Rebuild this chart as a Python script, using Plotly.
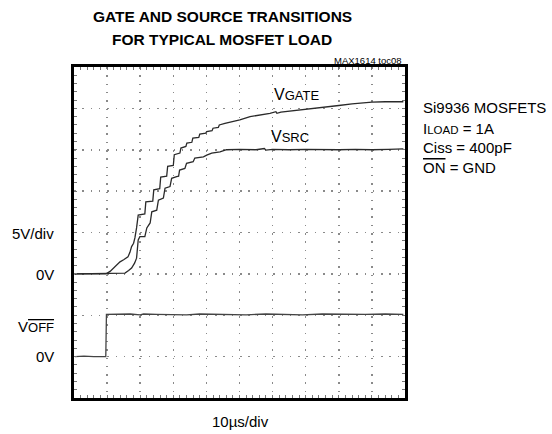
import plotly.graph_objects as go

# ---- data (time in microseconds, voltage in volts) ----
gate_t = [0.3, 9.7, 10.9, 12.5, 13.9, 15.0, 16.3, 16.9, 17.4, 18.0, 18.4, 18.9, 19.4,
          21.4, 21.7, 23.8, 24.1, 25.9, 26.2, 28.0, 28.3, 30.0, 30.3, 32.0, 32.3,
          33.8, 34.1, 35.6, 35.9, 37.7, 38.0, 39.8, 40.1, 41.7, 42.0, 43.6, 43.9,
          45.6, 47.5, 50.1, 53.2, 56.0, 59.2, 61.0, 61.3, 62.5, 66.0, 69.2, 73.0,
          77.3, 80.0, 84.0, 87.3, 90.0, 94.0, 99.5]
gate_v = [0.0, 0.0, 0.3, 0.9, 1.45, 1.7, 2.05, 2.6, 3.3, 3.7, 4.35, 5.55, 7.1,
          7.25, 8.7, 8.8, 10.15, 10.3, 11.7, 11.8, 13.0, 13.1, 14.4, 14.6, 15.2,
          15.4, 15.8, 15.9, 16.4, 16.5, 16.9, 17.0, 17.2, 17.3, 17.6, 17.7, 18.0,
          18.2, 18.35, 18.6, 19.0, 19.15, 19.4, 19.6, 19.4, 19.55, 19.7, 19.8, 20.0,
          20.2, 20.35, 20.55, 20.7, 20.75, 20.8, 20.8]

src_t = [0.3, 15.4, 16.5, 17.4, 18.3, 18.9, 19.4, 19.9, 21.4, 22.0, 23.0, 23.5,
         25.0, 25.5, 27.0, 27.5, 29.0, 29.5, 31.0, 31.6, 31.9, 33.5, 34.0, 36.0,
         36.5, 39.1, 40.1, 41.6, 44.1, 46.1, 50.0, 55.0, 57.5, 58.0, 60.0, 65.0,
         70.0, 75.0, 80.0, 85.0, 90.0, 95.0, 99.5]
src_v = [0.0, 0.1, 0.4, 0.7, 1.3, 1.9, 4.1, 4.5, 4.5, 5.55, 6.15, 7.5,
         7.7, 8.9, 9.15, 10.35, 10.55, 11.55, 11.75, 11.8, 12.55, 12.75, 13.35, 13.55,
         14.0, 14.15, 14.35, 14.6, 14.75, 15.0, 15.05, 15.0, 15.15, 14.95, 15.05, 15.0,
         15.05, 15.0, 15.0, 15.05, 15.0, 15.05, 15.1]

voff_t = [0.3, 3.0, 6.0, 9.6, 9.8, 13.0, 17.0, 20.0, 21.0, 25.0, 30.0, 34.0,
          38.0, 42.0, 47.0, 52.0, 58.0, 63.0, 69.0, 75.0, 81.0, 88.0, 94.0, 99.5]
voff_v = [0.0, 0.05, 0.0, 0.0, 5.1, 5.1, 5.15, 5.05, 5.15, 5.1, 5.1, 5.05,
          5.15, 5.1, 5.1, 5.05, 5.15, 5.1, 5.05, 5.15, 5.1, 5.1, 5.15, 5.1]
voff_offset = -10.0   # VOFF channel 0V sits two divisions below the gate/source 0V

x_range = [0, 100]    # 10 us/div, 10 divisions
y_range = [-15, 25]   # 5 V/div, 8 divisions

# ---- layout geometry ----
W, H = 552, 434
L, R, T, B = 74, 405, 67, 398
PW, PH = R - L, B - T

def px(x):
    return (x - L) / PW

def py(y):
    return (B - y) / PH

FONT = "Liberation Sans, Arial, Helvetica, sans-serif"
TRACE_COLOR = "#2a2a2a"

fig = go.Figure()
fig.add_trace(go.Scatter(x=gate_t, y=gate_v, mode="lines",
                         line=dict(color=TRACE_COLOR, width=1.3), hoverinfo="skip"))
fig.add_trace(go.Scatter(x=src_t, y=src_v, mode="lines",
                         line=dict(color=TRACE_COLOR, width=1.3), hoverinfo="skip"))
fig.add_trace(go.Scatter(x=voff_t, y=[v + voff_offset for v in voff_v], mode="lines",
                         line=dict(color="#444444", width=1.3), hoverinfo="skip"))

grid = dict(showgrid=True, gridcolor="#8a8a8a", gridwidth=1.5, griddash="1.5px,6.8px")
frame = dict(showline=True, linecolor="black", linewidth=3, mirror="allticks",
             ticks="inside", ticklen=3, tickcolor="#777", tickwidth=1,
             showticklabels=False, zeroline=False, fixedrange=True)

fig.update_layout(
    width=W, height=H,
    margin=dict(l=L, r=W - R, t=T, b=H - B, pad=0),
    paper_bgcolor="white", plot_bgcolor="white",
    showlegend=False,
    xaxis=dict(range=x_range, dtick=10, tick0=0,
               minor=dict(ticks="inside", dtick=2, ticklen=3, tickcolor="#777", showgrid=False),
               **grid, **frame),
    yaxis=dict(range=y_range, dtick=5, tick0=0,
               minor=dict(ticks="inside", dtick=1, ticklen=3, tickcolor="#777", showgrid=False),
               **grid, **frame),
    # center cross-hair with fine ticks
    xaxis2=dict(overlaying="x", anchor="free", position=0.5, range=x_range,
                showline=True, linecolor="#b8b8b8", linewidth=1, ticks="outside",
                ticklen=3, dtick=2, tick0=0, tickcolor="#999", showticklabels=False,
                showgrid=False, zeroline=False, fixedrange=True),
    xaxis3=dict(overlaying="x", anchor="free", position=0.5, range=x_range,
                showline=False, ticks="inside", ticklen=3, dtick=2, tick0=0,
                tickcolor="#999", showticklabels=False, showgrid=False,
                zeroline=False, fixedrange=True),
    yaxis2=dict(overlaying="y", anchor="free", position=0.5, range=y_range,
                showline=True, linecolor="#b8b8b8", linewidth=1, ticks="outside",
                ticklen=3, dtick=1, tick0=0, tickcolor="#999", showticklabels=False,
                showgrid=False, zeroline=False, fixedrange=True),
    yaxis3=dict(overlaying="y", anchor="free", position=0.5, range=y_range,
                showline=False, ticks="inside", ticklen=3, dtick=1, tick0=0,
                tickcolor="#999", showticklabels=False, showgrid=False,
                zeroline=False, fixedrange=True),
)

def note(text, x, y, size, xanchor="left", yanchor="middle", color="black"):
    fig.add_annotation(text=text, xref="paper", yref="paper", x=px(x), y=py(y),
                       xanchor=xanchor, yanchor=yanchor, showarrow=False,
                       font=dict(family=FONT, size=size, color=color),
                       align=xanchor if xanchor != "center" else "center")

def sub(s, sz):
    return f"<span style='font-size:{sz}px'>{s}</span>"

note("<b>GATE AND SOURCE TRANSITIONS</b>", 222, 17, 15.5, xanchor="center")
note("<b>FOR TYPICAL MOSFET LOAD</b>", 222, 39, 15.5, xanchor="center")
note("MAX1614 toc08", 404, 61, 9.5, xanchor="right")

note("V" + sub("GATE", 13), 272, 94, 16)
note("V" + sub("SRC", 13), 269, 136, 16)

note("Si9936 MOSFETS", 421, 108, 15)
note("I" + sub("LOAD", 11.5) + " = 1A", 421, 128, 15)
note("Ciss = 400pF", 421, 147, 15)
note("<span style='text-decoration:overline'>ON</span> = GND", 421, 167, 15)

note("5V/div", 56, 233, 15, xanchor="right")
note("0V", 56, 274, 15, xanchor="right")
note("V<span style='font-size:13px;text-decoration:overline'>OFF</span>", 56, 326, 15, xanchor="right")
note("0V", 56, 356, 15, xanchor="right")
note("10µs/div", 240, 421, 15, xanchor="center")

fig.write_html("out.html",
               config={"displayModeBar": False, "staticPlot": True},
               post_script="document.body.style.margin='0';document.body.style.padding='0';")
